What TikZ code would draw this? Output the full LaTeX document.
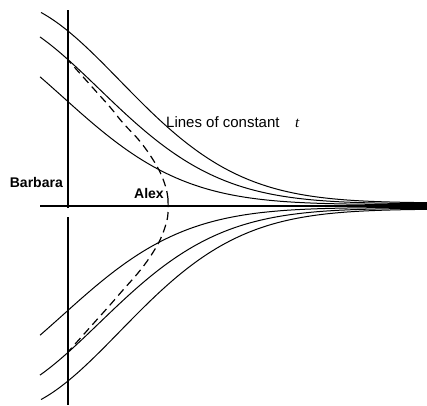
\documentclass[tikz,border=0pt]{standalone}
\usepackage{fontspec}
\setmainfont{Liberation Sans}
\newfontfamily\serfam{Liberation Serif}
\begin{document}
\begin{tikzpicture}[x=1pt,y=-1pt,
  axisline/.style={line width=1.8pt},
  tline/.style={line width=1pt},
  worldline/.style={line width=1.2pt, dash pattern=on 8pt off 5pt},
  lbl/.style={inner sep=0pt, font=\fontsize{14}{16}\selectfont\bfseries},
  txt/.style={inner sep=0pt, font=\fontsize{15}{17}\selectfont}]
\useasboundingbox (0,0) rectangle (427,405);
% axes
\draw[axisline] (40,206) -- (427,206);
\draw[axisline] (68,10) -- (68,208);
\draw[axisline] (68,217) -- (68,405);
% lines of constant t
\foreach \A/\s/\T/\xs in {205/0/3/41, 192/20.5/2.2/40, 178/55.8/1.4/40}{
  \draw[tline] plot[domain=\xs:427, samples=120]
    (\x, {206 - (\A*exp(-((\x+\s)/169)*((\x+\s)/169)) + \T*(1-exp(-(\x/150)*(\x/150))))});
  \draw[tline] plot[domain=\xs:427, samples=120]
    (\x, {206 + (\A*exp(-((\x+\s)/169)*((\x+\s)/169)) + \T*(1-exp(-(\x/150)*(\x/150))))});
}
% Alex's worldline (dashed)
\draw[worldline] plot[smooth, tension=0.6] coordinates {(168,199) (166,188) (160,172) (150,155) (138,139) (123,123) (110,107) (93,88) (68,60)};
\draw[worldline] plot[smooth, tension=0.6] coordinates {(168,199) (168,213) (166,224) (160,240) (150,257) (138,273) (123,290) (110,305) (93,324) (68,352)};
% labels
\node[lbl, anchor=base east] (barbara) at (63,187) {Barbara};
\node[lbl, anchor=base west] (alex) at (134,198) {Alex};
\node[txt, anchor=base west] (lines) at (166,127) {Lines of constant};
\node[txt, anchor=base west] (tvar) at (295,127) {\serfam\itshape t};
\end{tikzpicture}
\end{document}
